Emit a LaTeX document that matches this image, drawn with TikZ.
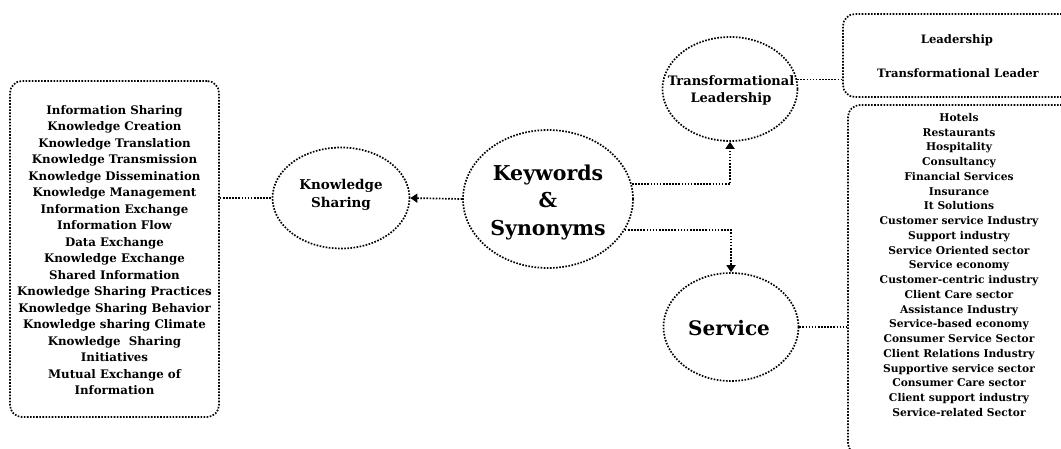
\documentclass[tikz,border=0pt]{standalone}
\usepackage{fontspec}
\setmainfont{DejaVu Serif}
\usetikzlibrary{arrows.meta,shapes.geometric,calc}
\begin{document}
\begin{tikzpicture}[x=1pt,y=-1pt,
  dot/.style={line width=1.7pt, dash pattern=on 1.6pt off 1.5pt},
  oval/.style={ellipse, draw, dot, inner sep=0pt},
  box/.style={draw, dot, rounded corners=12pt, inner sep=0pt},
  arr/.style={dot, -{Triangle[width=9pt,length=7pt]}}]
\useasboundingbox (0,0) rectangle (1061,449);
\clip (0,0) rectangle (1061,449);
% boxes
\node[box, minimum width=209pt, minimum height=336pt] (LB) at (114.5,249) {};
\node[box, minimum width=240pt, minimum height=83pt] (LDB) at (963,55.5) {};
\node[box, minimum width=232pt, minimum height=350pt] (SB) at (964,280) {};
% circles
\node[oval, minimum width=137pt, minimum height=101pt] (KS) at (341,198) {};
\node[oval, minimum width=170pt, minimum height=138pt] (KW) at (548,199) {};
\node[oval, minimum width=135pt, minimum height=104pt] (TL) at (730,89) {};
\node[oval, minimum width=135pt, minimum height=108pt] (SV) at (731,327) {};
% circle texts
\node[font=\bfseries\fontsize{13.5}{18}\selectfont, align=center, inner sep=0pt] (KSt) at (341,195) {Knowledge\\Sharing};
\node[font=\bfseries\fontsize{20.5}{27.5}\selectfont, align=center, inner sep=0pt] (KWt) at (548,202) {Keywords\\\&\\Synonyms};
\node[font=\bfseries\fontsize{13}{17}\selectfont, align=center, inner sep=0pt] (TLt) at (731,90) {Transformational\\Leadership};
\node[font=\bfseries\fontsize{20}{20}\selectfont, align=center, inner sep=0pt] (SVt) at (729,328) {Service};
% list texts
\node[font=\bfseries\fontsize{11.8}{16.5}\selectfont, align=center, inner sep=0pt] (LBt) at (114.5,250) {Information Sharing\\Knowledge Creation\\Knowledge Translation\\Knowledge Transmission\\Knowledge Dissemination\\Knowledge Management\\Information Exchange\\Information Flow\\Data Exchange\\Knowledge Exchange\\Shared Information\\Knowledge Sharing Practices\\Knowledge Sharing Behavior\\Knowledge sharing Climate\\Knowledge~ Sharing\\Initiatives\\Mutual Exchange of\\Information};
\node[font=\bfseries\fontsize{11.6}{12}\selectfont, inner sep=0pt] (L1) at (957,40) {Leadership};
\node[font=\bfseries\fontsize{11.6}{12}\selectfont, inner sep=0pt] (L2) at (958,73) {Transformational Leader};
\node[font=\bfseries\fontsize{10.7}{14.75}\selectfont, align=center, inner sep=0pt] (SBt) at (959,265) {Hotels\\Restaurants\\Hospitality\\Consultancy\\Financial Services\\Insurance\\It Solutions\\Customer service Industry\\Support industry\\Service Oriented sector\\Service economy\\Customer-centric industry\\Client Care sector\\Assistance Industry\\Service-based economy\\Consumer Service Sector\\Client Relations Industry\\Supportive service sector\\Consumer Care sector\\Client support industry\\Service-related Sector};
% connectors
\draw[dot] (KS.west -| LB.east) -- (KS.west);
\draw[arr] (KW.west) -- (KS.east);
\draw[arr] (KW.10) -| (TL.south);
\draw[arr] (KW.-22) -| (SV.north);
\draw[dot] (TL.8) -- (TL.8 -| LDB.west);
\draw[dot] (SV.east) -- (SV.east -| SB.west);
\end{tikzpicture}
\end{document}
